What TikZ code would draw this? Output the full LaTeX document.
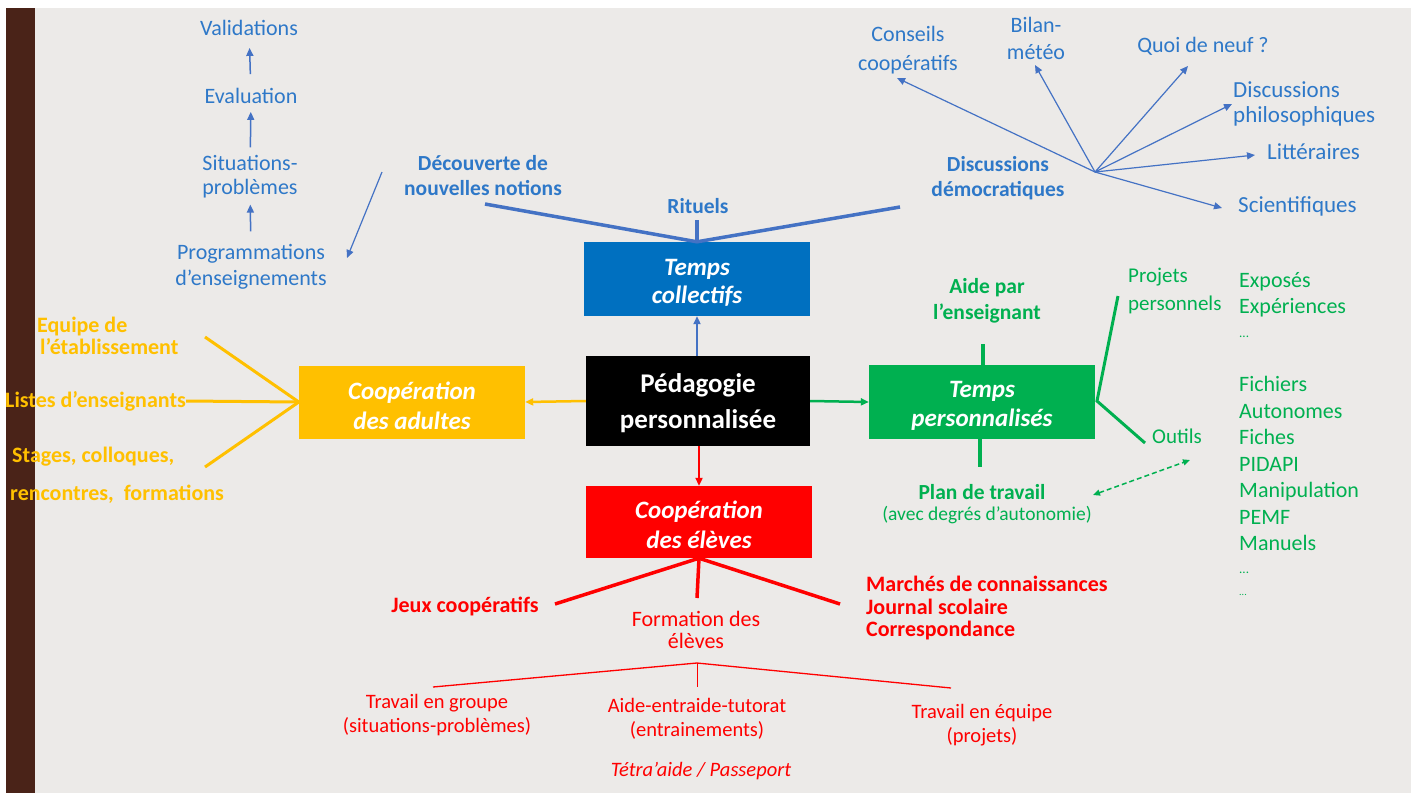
\documentclass[tikz,border=0pt]{standalone}
\usepackage{fontspec}
\setmainfont{Carlito}
\usetikzlibrary{arrows.meta}
\definecolor{bggrey}{HTML}{ECEAE8}
\definecolor{barbrown}{HTML}{4A2318}
\definecolor{boxblue}{HTML}{0070C0}
\definecolor{lineblue}{HTML}{4472C4}
\definecolor{txtblue}{HTML}{2E78C8}
\definecolor{adultyellow}{HTML}{FFC000}
\definecolor{persogreen}{HTML}{00B050}
\definecolor{elevered}{HTML}{FF0000}
\newcommand{\fsz}[2]{\fontsize{#1}{#2}\selectfont}

\tikzset{
	mainbox/.style={minimum width=226pt, minimum height=74pt, inner sep=0pt},
	boxtxt/.style={text=white, align=center, inner sep=0pt, yshift=-4pt,
		font=\fsz{25}{29}\bfseries\itshape},
	lbl/.style={align=center, inner sep=0pt, font=\fsz{22}{25}},
	lbll/.style={align=left, inner sep=0pt, font=\fsz{22}{25}, anchor=west},
	tip/.style={-{Triangle[length=8pt,width=7pt]}},
}

\begin{document}
\begin{tikzpicture}[x=1pt,y=-1pt]
	\useasboundingbox (0,0) rectangle (1415,793);
	\fill[bggrey] (35,8) rectangle (1411,793);
	\fill[barbrown] (6,8) rectangle (35,793);

	% boxes
	\node[mainbox, fill=black, minimum width=224pt, minimum height=90pt,
		label={[boxtxt, yshift=2pt, font=\fsz{27}{36}\bfseries]center:Pédagogie\\personnalisée}] (ped) at (698,401) {};
	\node[mainbox, fill=boxblue,
		label={[boxtxt, font=\fsz{25}{28}\bfseries\itshape]center:Temps\\collectifs}] (coll) at (697,279) {};
	\node[mainbox, fill=adultyellow, minimum height=73pt,
		label={[boxtxt, font=\fsz{25}{30}\bfseries\itshape]center:Coopération\\des adultes}] (adult) at (412,402) {};
	\node[mainbox, fill=persogreen,
		label={[boxtxt]center:Temps\\personnalisés}] (perso) at (982,402) {};
	\node[mainbox, fill=elevered, minimum height=72pt,
		label={[boxtxt, yshift=1pt, font=\fsz{25}{30}\bfseries\itshape]center:Coopération\\des élèves}] (eleves) at (699,522) {};

	\draw[tip, lineblue, line width=2.5pt] (ped.north -| coll.south) -- (coll.south);
	\draw[tip, adultyellow, line width=2.5pt] (ped.west) -- (adult.east);
	\draw[tip, persogreen, line width=2.5pt] (ped.east) -- (perso.west);
	\draw[tip, elevered, line width=2.5pt] (ped.south -| eleves.north) -- (eleves.north);

	% temps collectifs
	\begin{scope}[txtblue, every node/.style={lbl, font=\fsz{21.5}{25}\bfseries}]
	\node (decouv) at (483,176) {Découverte de\\nouvelles notions};
	\node (rituels) at (698,206) {Rituels};
	\node (discdem) at (998,178) {Discussions\\démocratiques};
	\end{scope}
	\coordinate (decouvend) at (485,204);
	\coordinate (rituelsend) at (697,220);
	\coordinate (discdemend) at (900,207);
	\draw[lineblue, line width=3.5pt] (decouvend) -- (coll.north) -- (discdemend);
	\draw[lineblue, line width=3.5pt] (rituelsend) -- (coll.north);

	% chaine de gauche
	\begin{scope}[txtblue, every node/.style={lbl}]
	\node (valid) at (249,28) {Validations};
	\node (eval) at (251,96) {Evaluation};
	\node[font=\fsz{22}{24}] (sitpb) at (250,177) {Situations-\\problèmes};
	\node[font=\fsz{22}{26}] (progr) at (251,267) {Programmations\\d’enseignements};
	\end{scope}
	\draw[tip, lineblue, line width=1.5pt, shorten <=14pt, shorten >=12pt] (eval) -- (valid);
	\draw[tip, lineblue, line width=1.5pt, shorten <=8pt, shorten >=8pt] (sitpb) -- (eval);
	\draw[tip, lineblue, line width=1.5pt, shorten <=13pt, shorten >=6pt] (progr) -- (sitpb);
	\coordinate (progrstart) at (382,172);
	\coordinate (progrend) at (347,258);
	\draw[tip, lineblue, line width=1.2pt] (progrstart) -- (progrend);

	% discussions
	\coordinate (hub) at (1095,172);
	\begin{scope}[txtblue, every node/.style={lbl}]
	\node[font=\fsz{22}{29}] (conseils) at (908,50) {Conseils\\coopératifs};
	\node[font=\fsz{22}{27}] (bilan) at (1036,38) {Bilan-\\météo};
	\node (quoi) at (1203,46) {Quoi de neuf ?};
	\node[lbll, font=\fsz{23}{25}] (philo) at (1233,104) {Discussions\\philosophiques};
	\node[lbll, font=\fsz{23}{25}] (litt) at (1267,152) {Littéraires};
	\node[lbll, font=\fsz{23}{25}] (scient) at (1238,206) {Scientifiques};
	\end{scope}
	\coordinate (conseilsend) at (897,78);
	\coordinate (bilanend) at (1035,65);
	\coordinate (quoiend) at (1188,66);
	\coordinate (philoend) at (1232,104);
	\coordinate (littend) at (1255,155);
	\coordinate (scientend) at (1222,208);
	\foreach \e in {conseilsend,bilanend,quoiend,philoend,littend,scientend}
		\draw[tip, lineblue, line width=1.2pt] (hub) -- (\e);

	% adultes
	\begin{scope}[adultyellow, every node/.style={lbll, font=\fsz{22}{22}\bfseries}]
	\node (equipe) at (37,336) {Equipe de\\\hspace*{3pt}l’établissement};
	\node (listes) at (5,401) {Listes d’enseignants};
	\node (stages) at (12,457) {Stages, colloques,};
	\node (rencontres) at (10,494) {rencontres,\ \ formations};
	\end{scope}
	\coordinate (equipeend) at (205,337);
	\coordinate (stagesend) at (205,467);
	\draw[adultyellow, line width=3pt] (equipeend) -- (adult.west) -- (stagesend);
	\draw[adultyellow, line width=3pt] (listes.east) -- (adult.west);

	% temps personnalises
	\begin{scope}[persogreen, every node/.style={lbl, font=\fsz{21.5}{26}\bfseries}]
	\node (aide) at (987,301) {Aide par\\l’enseignant};
	\node (plan) at (982,492) {Plan de travail};
	\node[font=\fsz{19.5}{20}] (avec) at (987,515) {(avec degrés d’autonomie)};
	\end{scope}
	\begin{scope}[persogreen, every node/.style={lbll, font=\fsz{21}{28}}]
	\node (projets) at (1128,291) {Projets\\personnels};
	\node (outils) at (1152,436) {Outils};
	\node[font=\fsz{22}{26}] (exposes) at (1239,305) {Exposés\\Expériences\\[-2pt]{\fsz{13}{14}...}};
	\node[font=\fsz{22}{26.5}] (fichiers) at (1239,475) {Fichiers\\Autonomes\\Fiches\\PIDAPI\\Manipulation\\PEMF\\Manuels\\[-4pt]{\fsz{13}{14}...}};
	\node[font=\fsz{10}{12}] (dots) at (1239,595) {...};
	\end{scope}
	\coordinate (aideend) at (983,344);
	\coordinate (planend) at (980,467);
	\coordinate (projetsend) at (1118,296);
	\coordinate (outilsend) at (1145,443);
	\coordinate (persoright) at (1097,401);
	\draw[persogreen, line width=3.5pt] (aideend) -- (aideend |- perso.north);
	\draw[persogreen, line width=3.5pt] (planend |- perso.south) -- (planend);
	\draw[persogreen, line width=3pt] (projetsend) -- (persoright) -- (outilsend);
	\coordinate (dashstart) at (1190,460);
	\coordinate (dashend) at (1093,495);
	\draw[{Triangle[length=7pt,width=6pt]}-{Triangle[length=7pt,width=6pt]}, persogreen, dash pattern=on 5pt off 3pt, line width=1.5pt] (dashend) -- (dashstart);

	% eleves
	\begin{scope}[elevered, every node/.style={lbl, font=\fsz{22}{22}\bfseries}]
	\node (jeux) at (465,606) {Jeux coopératifs};
	\node[font=\fsz{22}{22}] (formation) at (696,630) {Formation des\\élèves};
	\node[lbll, font=\fsz{22}{22.5}\bfseries] (marches) at (866,608) {Marchés de connaissances\\Journal scolaire\\Correspondance};
	\end{scope}
	\coordinate (jeuxend) at (555,604);
	\coordinate (formationend) at (697,598);
	\coordinate (marchesend) at (840,604);
	\draw[elevered, line width=3.5pt] (jeuxend) -- (eleves.south) -- (marchesend);
	\draw[elevered, line width=3.5pt] (formationend) -- (eleves.south);

	\begin{scope}[elevered, every node/.style={lbl, font=\fsz{20.5}{24}}]
	\node (groupe) at (437,715) {Travail en groupe\\(situations-problèmes)};
	\node (tutorat) at (697,719) {Aide-entraide-tutorat\\(entrainements)};
	\node (equipe2) at (982,725) {Travail en équipe\\(projets)};
	\node[font=\fsz{20.5}{22}\itshape] (tetra) at (701,771) {Tétra’aide / Passeport};
	\end{scope}
	\coordinate (apex) at (697,663);
	\coordinate (groupeend) at (433,687);
	\coordinate (tutoratend) at (697.5,687);
	\coordinate (equipe2end) at (951,688);
	\draw[elevered, line width=1.3pt] (groupeend) -- (apex) -- (equipe2end);
	\draw[elevered, line width=1.3pt] (apex -| tutoratend) -- (tutoratend);
\end{tikzpicture}
\end{document}
